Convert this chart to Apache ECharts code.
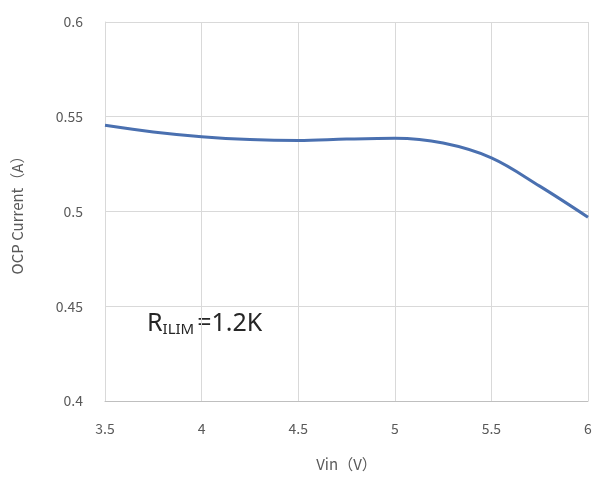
<!DOCTYPE html>
<html><head><meta charset="utf-8">
<script src="https://cdn.jsdelivr.net/npm/echarts@6/dist/echarts.min.js"></script>
<style>html,body{margin:0;padding:0;background:#fff}#c{width:595px;height:484px}</style>
</head><body><div id="c"></div>
<script>
const vin = [3.5, 3.75, 4, 4.25, 4.5, 4.75, 5, 5.25, 5.5, 5.75, 6];
const ocp = [0.5455, 0.542, 0.5395, 0.538, 0.5375, 0.5382, 0.5386, 0.5361, 0.5283, 0.5134, 0.497];
const xTitle = 'Vin（V）';
const yTitle = 'OCP Current（A）';

const chart = echarts.init(document.getElementById('c'), null, {renderer: 'canvas'});
const font = '"Noto Sans CJK SC", "Noto Sans", sans-serif';
const latin = '"Noto Sans", sans-serif';
chart.setOption({
  animation: false,
  backgroundColor: '#fff',
  grid: {left: 105, right: 7, top: 22, bottom: 83, containLabel: false},
  xAxis: {
    type: 'value', min: 3.5, max: 6, interval: 0.5,
    name: xTitle, nameLocation: 'middle', nameGap: 56,
    nameTextStyle: {color: '#595959', fontSize: 15, fontFamily: font},
    axisLine: {show: true, lineStyle: {color: '#bfbfbf', width: 1}},
    axisTick: {show: false},
    axisLabel: {color: '#595959', fontSize: 14, fontFamily: font, margin: 21},
    splitLine: {show: true, lineStyle: {color: '#d9d9d9', width: 1}}
  },
  yAxis: {
    type: 'value', min: 0.4, max: 0.6, interval: 0.05,
    name: yTitle, nameLocation: 'middle', nameGap: 80, nameRotate: 90,
    nameTextStyle: {color: '#595959', fontSize: 15, fontFamily: font},
    axisLine: {show: true, lineStyle: {color: '#d9d9d9'}},
    axisTick: {show: false},
    axisLabel: {color: '#595959', fontSize: 14, fontFamily: font, margin: 22},
    splitLine: {show: true, lineStyle: {color: '#d9d9d9', width: 1}}
  },
  series: [{
    type: 'line', smooth: 0.35, showSymbol: false,
    data: vin.map((v, i) => [v, ocp[i]]),
    lineStyle: {color: '#4a70b0', width: 3}
  }],
  graphic: [{
    type: 'text', left: 147, top: 311,
    style: {
      text: '{r|R}{s|ILIM}{e|=1.2K}',
      rich: {
        r: {fontSize: 25, fill: '#262626', fontFamily: latin},
        s: {fontSize: 15, fill: '#262626', fontFamily: latin, padding: [12, 0, 0, 0]},
        e: {fontSize: 25, fill: '#262626', fontFamily: latin, padding: [0, 0, 0, 3]}
      }
    }
  }]
});
</script></body></html>
